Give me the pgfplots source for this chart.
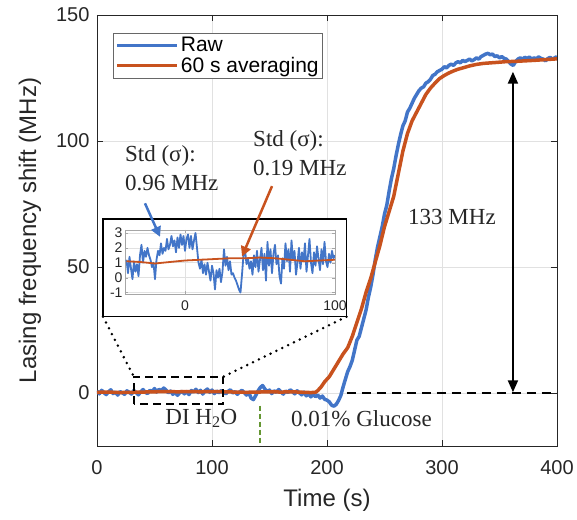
\documentclass[border=0pt]{standalone}
\usepackage{fontspec}
\setmainfont{Liberation Sans}
\newfontfamily\serif{Liberation Serif}
\usepackage{pgfplots}
\pgfplotsset{compat=1.18}
\usetikzlibrary{arrows.meta}

\definecolor{rawblue}{RGB}{66,117,200}
\definecolor{avgorange}{RGB}{200,82,30}
\definecolor{axgray}{RGB}{38,38,38}
\definecolor{gridgray}{RGB}{225,225,225}
\definecolor{glgreen}{RGB}{100,150,50}

\begin{document}
\begin{tikzpicture}
\begin{axis}[name=main, at={(0pt,0pt)}, anchor=south west, scale only axis, width=460pt, height=431pt,
  xmin=0, xmax=400, ymin=-21, ymax=150,
  xtick={0,100,200,300,400}, ytick={0,50,100,150},
  grid=major, major grid style={gridgray, line width=0.8pt},
  tick align=inside, major tick length=6pt,
  axis line style={axgray, line width=0.8pt}, tick style={axgray, line width=0.8pt},
  ticklabel style={font=\fontsize{20}{24}\selectfont, text=axgray},
  xticklabel style={yshift=-11pt}, yticklabel style={xshift=-4pt},
  /pgf/number format/assume math mode=true,
  xlabel={Time (s)}, ylabel={Lasing frequency shift (MHz)},
  label style={font=\fontsize{24}{28}\selectfont, text=axgray},
  xlabel style={at={(axis description cs:0.5,-0.125)}, anchor=center},
  ylabel style={at={(axis description cs:-0.146,0.5)}, anchor=center},
  legend style={at={(0.035,0.958)}, anchor=north west, draw=axgray!70, line width=0.6pt,
    font=\fontsize{21}{25}\selectfont, fill=white, inner sep=2pt},
  legend cell align=left,
  legend image code/.code={\draw[#1] (0pt,0pt) -- (60pt,0pt);},
]
% raw signal
\addplot[rawblue, line width=3.5pt, line join=round] coordinates {
(0,0.8)(2,-0.3)(4,1.1)(6,0.2)(8,-0.6)(10,0.5)(12,1.3)(14,-0.2)(16,0.4)(18,-0.8)
(20,0.6)(22,0.1)(24,-0.5)(26,0.9)(28,0.3)(30,-0.4)(32,1.0)(34,0.2)(36,-0.7)(38,0.5)
(40,1.4)(42,0.3)(44,-0.2)(46,1.1)(48,0.6)(50,1.8)(52,0.4)(54,1.5)(56,0.9)(58,2.0)
(60,1.2)(62,0.1)(64,0.8)(66,-0.5)(68,0.3)(70,-0.9)(72,0.2)(74,0.7)(76,-0.3)(78,0.6)
(80,-0.6)(82,1.0)(84,0.4)(86,1.5)(88,0.2)(90,1.1)(92,-0.4)(94,0.9)(96,1.6)(98,0.3)
(100,1.2)(102,-0.2)(104,0.8)(106,0.1)(108,1.0)(110,0.4)(112,-0.3)(114,0.7)(116,1.3)(118,0.0)
(120,0.6)(122,-0.5)(124,0.4)(126,1.1)(128,0.2)(130,-0.8)(132,0.3)(134,-2.0)(136,-2.6)(138,-1.0)
(140,0.8)(142,2.2)(144,3.0)(146,1.6)(148,0.5)(150,1.2)(152,-0.2)(154,0.9)(156,0.3)(158,1.4)
(160,0.5)(162,-0.4)(164,0.8)(166,0.2)(168,1.3)(170,0.6)(172,-0.3)(174,0.9)(176,0.1)(178,-0.7)
(180,0.4)(182,-1.1)(184,-0.3)(186,-1.5)(188,-0.6)(190,-1.4)(192,-0.8)(194,-2.0)(196,-1.2)(198,-2.5)
(200,-2.8)(202,-3.5)(204,-4.8)(206,-5.2)(208,-4.5)(210,-3.0)(212,-1.0)(214,2.4)(216,5.5)(218,8.5)
(220,10.5)(222,13.0)(224,17.0)(226,21.0)(228,22.5)(230,26.0)(232,29.5)(234,33.0)(236,38.0)(238,42.0)
(240,47.0)(242,53.0)(244,58.0)(246,62.0)(248,66.0)(250,71.0)(252,74.5)(254,80.0)(256,85.0)(258,89.0)
(260,94.0)(262,98.5)(264,102.5)(266,106.0)(268,108.0)(270,111.5)(272,113.0)(274,115.0)(276,117.0)(278,118.5)
(280,120.0)(282,121.0)(284,121.5)(286,123.0)(288,123.5)(290,124.5)(292,126.0)(294,126.5)(296,127.5)(298,128.0)
(300,128.5)(302,129.5)(304,129.0)(306,130.0)(308,130.5)(310,130.0)(312,131.0)(314,131.5)(316,131.0)(318,132.0)
(320,131.5)(322,132.0)(324,132.5)(326,131.8)(328,132.3)(330,133.0)(332,132.5)(334,133.5)(336,134.0)(338,134.5)
(340,134.8)(342,134.2)(344,134.5)(346,133.5)(348,133.8)(350,133.0)(352,133.5)(354,132.8)(356,132.5)(358,131.5)
(360,130.5)(362,130.0)(364,131.5)(366,132.5)(368,133.0)(370,132.5)(372,133.2)(374,132.8)(376,133.3)(378,132.5)
(380,133.0)(382,132.6)(384,133.4)(386,132.8)(388,132.5)(390,131.8)(392,132.7)(394,133.2)(396,132.5)(398,133.0)
(400,133.5)};
\addlegendentry{Raw}
% 60 s moving average
\addplot[avgorange, line width=3.5pt, line join=round] coordinates {
(0,0.3)(10,0.4)(20,0.2)(30,0.3)(40,0.4)(50,0.5)(60,0.6)(70,0.5)(80,0.6)(90,0.5)
(100,0.6)(110,0.5)(120,0.4)(130,0.3)(140,0.4)(150,0.5)(160,0.4)(170,0.5)(180,0.3)(186,0.2)
(190,0.3)(192,1.0)(195,2.5)(198,4.5)(202,6.5)(206,9.5)(210,12.5)(214,15.5)(218,18.0)(222,22.5)
(226,28.0)(230,33.5)(234,40.0)(238,45.5)(242,52.0)(246,58.5)(250,66.0)(254,72.0)(258,78.0)(262,87.0)
(266,96.0)(270,103.0)(274,108.0)(278,111.5)(282,115.0)(286,118.5)(290,121.0)(294,123.0)(298,124.8)(302,126.0)
(306,127.0)(310,127.8)(314,128.5)(318,129.0)(324,129.8)(330,130.4)(336,130.8)(342,131.0)(348,131.2)(356,131.5)
(364,131.6)(372,131.8)(380,132.0)(390,132.3)(400,132.6)};
\addlegendentry{60 s averaging}

% zoom window and guides
\draw[black, line width=2pt, dash pattern=on 8pt off 5pt] (axis cs:32,-4.5) rectangle (axis cs:110,6.5);
\draw[black, line width=2.8pt, line cap=round, dash pattern=on 0pt off 6.5pt] (axis cs:5.2,30.3) -- (axis cs:32,6.5);
\draw[black, line width=2.8pt, line cap=round, dash pattern=on 0pt off 6.5pt] (axis cs:217,30.3) -- (axis cs:110,6.5);
\draw[black, line width=2pt, dash pattern=on 9pt off 6pt] (axis cs:217,0) -- (axis cs:400,0);
\draw[black, line width=2pt, {Triangle[length=12pt,width=10pt]}-{Triangle[length=12pt,width=10pt]}] (axis cs:361.7,0.3) -- (axis cs:361.7,127.5);
\draw[glgreen, line width=1.5pt, dash pattern=on 5pt off 3pt] (axis cs:141.7,-5) -- (axis cs:141.7,-21);
\node[font=\serif\fontsize{23}{28}\selectfont, text=axgray] at (axis cs:90.7,-10) {DI H\textsubscript{2}O};
\node[font=\serif\fontsize{23}{28}\selectfont, text=axgray] at (axis cs:230,-10) {0.01\% Glucose};
\node[font=\serif\fontsize{23}{28}\selectfont, text=axgray] at (axis cs:308.7,69.7) {133 MHz};
\node[font=\serif\fontsize{23}{29}\selectfont, text=axgray, align=left, anchor=west, inner sep=0pt] at (axis cs:24.3,89.4) {Std (σ):\\0.96 MHz};
\node[font=\serif\fontsize{23}{29}\selectfont, text=axgray, align=left, anchor=west, inner sep=0pt] at (axis cs:135.7,95.2) {Std (σ):\\0.19 MHz};
% inset frame
\draw[black, line width=1.5pt, fill=white] (axis cs:5.2,30.3) rectangle (axis cs:217,69);
\coordinate (ba) at (axis cs:41.7,75.3);
\coordinate (bb) at (axis cs:54.8,62.0);
\coordinate (oa) at (axis cs:152.2,82.1);
\coordinate (ob) at (axis cs:126.1,54.2);
\end{axis}

\begin{axis}[at={(28pt,152pt)}, anchor=south west,
  scale only axis, width=210pt, height=64pt,
  xmin=-40, xmax=100, ymin=-1.1, ymax=3.2,
  xtick={0,100}, ytick={-1,0,1,2,3},
  grid=major, major grid style={gridgray, line width=0.6pt},
  tick align=inside, major tick length=3pt,
  axis line style={gray!70, line width=0.6pt}, tick style={gray!70},
  ticklabel style={font=\fontsize{14}{16}\selectfont, text=axgray},
  xticklabel style={yshift=-3pt}, yticklabel style={xshift=1pt},
  /pgf/number format/assume math mode=true,
]
\addplot[rawblue, line width=1.8pt, line join=round] coordinates {
(-39,1.2)(-38,0.3)(-37,1.4)(-36,0.6)(-35,-0.1)(-34,1.1)(-33,0.4)(-32,0.9)(-31,0.1)(-30,1.5)
(-29,2.2)(-28,1.0)(-27,1.8)(-26,1.4)(-25,2.0)(-24,1.5)(-23,1.2)(-22,0.7)(-21,1.0)(-20,-0.1)
(-19,1.2)(-18,1.8)(-17,1.5)(-16,2.3)(-15,1.6)(-14,2.0)(-13,1.8)(-12,2.6)(-11,1.9)(-10,2.2)
(-9,2.8)(-8,2.1)(-7,2.5)(-6,1.7)(-5,2.7)(-4,2.0)(-3,2.9)(-2,2.2)(-1,2.8)(0,1.8)
(1,2.6)(2,2.9)(3,2.0)(4,2.8)(5,1.9)(6,2.5)(7,3.0)(8,2.0)(9,1.0)(10,0.6)
(11,1.2)(12,0.3)(13,0.9)(14,0.2)(15,1.0)(16,0.4)(17,-0.2)(18,0.8)(19,0.3)(20,-0.8)
(21,0.5)(22,0.0)(23,0.6)(24,-0.3)(25,0.4)(26,1.9)(27,0.8)(28,1.4)(29,0.5)(30,1.1)
(31,0.2)(32,0.3)(33,0.0)(34,-0.2)(35,-0.5)(36,-0.8)(37,-1.0)(38,0.2)(39,1.5)(40,1.9)
(41,0.9)(42,1.3)(43,0.6)(44,1.1)(45,0.2)(46,1.5)(47,0.7)(48,1.8)(49,0.4)(50,1.2)
(51,2.0)(52,0.5)(53,1.6)(54,-0.2)(55,2.4)(56,0.8)(57,1.9)(58,0.3)(59,1.6)(60,2.2)
(61,0.9)(62,1.5)(63,0.1)(64,-0.4)(65,1.3)(66,0.6)(67,2.3)(68,1.1)(69,1.9)(70,0.4)
(71,2.5)(72,1.2)(73,1.8)(74,0.2)(75,1.0)(76,2.0)(77,0.6)(78,1.7)(79,1.1)(80,2.3)
(81,0.4)(82,1.5)(83,2.6)(84,1.0)(85,0.3)(86,1.7)(87,0.8)(88,2.1)(89,1.3)(90,0.5)
(91,1.9)(92,0.9)(93,2.4)(94,1.1)(95,0.7)(96,1.6)(97,1.0)(98,1.8)(99,1.3)(100,1.5)};
\addplot[avgorange, line width=1.8pt] coordinates {
(-39,1.1)(-30,1.05)(-20,0.95)(-10,1.05)(0,1.15)(10,1.2)(20,1.25)(30,1.3)(40,1.3)(50,1.35)
(60,1.3)(70,1.2)(80,1.1)(90,1.15)(100,1.2)};
\end{axis}

\draw[rawblue, line width=2.5pt, -{Triangle[length=10pt,width=10pt]}] (ba) -- (bb);
\draw[avgorange, line width=2.5pt, -{Triangle[length=10pt,width=10pt]}] (oa) -- (ob);
\path ([shift={(-97pt,-74pt)}]main.south west) rectangle ([shift={(20pt,15pt)}]main.north east);
\end{tikzpicture}
\end{document}
